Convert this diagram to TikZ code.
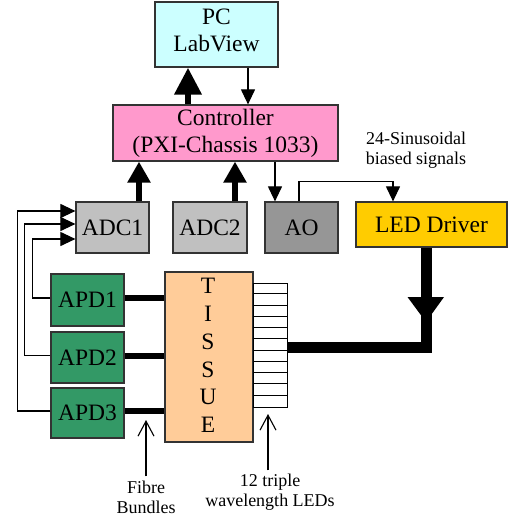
\documentclass[tikz,border=0pt]{standalone}
\usepackage{fontspec}
\setmainfont{Liberation Serif}
\usetikzlibrary{arrows.meta}
\definecolor{pccol}{HTML}{CCFFFF}
\definecolor{ctrlcol}{HTML}{FF99CC}
\definecolor{adccol}{HTML}{C0C0C0}
\definecolor{aocol}{HTML}{969696}
\definecolor{ledcol}{HTML}{FFCC00}
\definecolor{apdcol}{HTML}{339966}
\definecolor{tissuecol}{HTML}{FFCC99}
\newcommand\bigtxt{\fontsize{23.5}{27}\selectfont}
\newcommand\smalltxt{\fontsize{18}{20}\selectfont}
\begin{document}
\begin{tikzpicture}[x=1pt,y=-1pt,
  box/.style={draw=black!80, line width=1.2pt, inner sep=0pt, font=\bigtxt, align=center},
  thinarr/.style={line width=1.1pt, -{Triangle[width=14pt,length=15pt]}},
  thickA/.style={line width=6.5pt, -{Triangle[width=26pt,length=27pt]}},
  thickB/.style={line width=6.5pt, -{Triangle[width=22pt,length=21pt]}},
  fibre/.style={line width=6pt},
  openarr/.style={line width=1.1pt, -{Straight Barb[width=16pt,length=15pt]}},
  lbl/.style={font=\smalltxt, align=center}
]
\useasboundingbox (0,0) rectangle (514,518);

% boxes
\node[box, fill=pccol, minimum width=123pt, minimum height=65pt,
      label={[font=\bigtxt, align=center, yshift=4.5pt]center:{PC\\LabView}}] (pc) at (216.5,34.5) {};
\node[box, fill=ctrlcol, minimum width=225pt, minimum height=56pt] (ctrl) at (225.5,133) {Controller\\(PXI-Chassis 1033)};
\node[box, fill=adccol, minimum width=73pt, minimum height=51pt] (adc1) at (112.5,227.5) {ADC1};
\node[box, fill=adccol, minimum width=74pt, minimum height=51pt] (adc2) at (210,227.5) {ADC2};
\node[box, fill=aocol, minimum width=73pt, minimum height=51pt] (ao) at (301.5,227.5) {AO};
\node[box, fill=ledcol, minimum width=151pt, minimum height=45pt] (led) at (431.5,224.5) {LED Driver};
\node[box, fill=apdcol, minimum width=73pt, minimum height=52pt] (apd1) at (87.5,300) {APD1};
\node[box, fill=apdcol, minimum width=73pt, minimum height=51pt] (apd2) at (87.5,357.5) {APD2};
\node[box, fill=apdcol, minimum width=73pt, minimum height=50pt] (apd3) at (87.5,413) {APD3};
\node[box, fill=tissuecol, minimum width=88pt, minimum height=170pt] (tissue) at (209,357) {};
\node[font=\fontsize{23.5}{27.8}\selectfont, align=center, inner sep=0pt] (tissuetxt) at (208,355.5) {T\\I\\S\\S\\U\\E};

% LED stack
\node[draw=black, line width=1pt, fill=white, minimum width=34pt, minimum height=124pt, inner sep=0pt] (stack) at (270,345) {};
\foreach \i in {1,...,10}
  \draw[line width=1pt] (stack.north west) ++(0,\i*11.2727) -- ++(34,0);

% controller <-> PC
\draw[thickA] ([xshift=-28.5pt]pc.south |- ctrl.north) -- ([xshift=-28.5pt]pc.south);
\draw[thinarr] ([xshift=31.5pt]pc.south) -- ([xshift=31.5pt]pc.south |- ctrl.north);

% ADCs -> controller
\draw[thickB] ([xshift=26.5pt]adc1.north) -- ([xshift=26.5pt]adc1.north |- ctrl.south);
\draw[thickB] ([xshift=25pt]adc2.north) -- ([xshift=25pt]adc2.north |- ctrl.south);

% controller -> AO -> LED driver
\draw[thinarr] ([xshift=-26.5pt]ao.north |- ctrl.south) -- ([xshift=-26.5pt]ao.north);
\draw[thinarr] ([xshift=-2.5pt]ao.north) |- ([xshift=-38.5pt,yshift=20pt]led.north) -- ([xshift=-38.5pt]led.north);

% APDs -> ADC1
\draw[thinarr] ([yshift=2pt]apd1.west) -- ++(-18,0) |- ([yshift=-11.5pt]adc1.west);
\draw[thinarr] ([yshift=2pt]apd2.west) -- ++(-26,0) |- ([yshift=3.5pt]adc1.west);
\draw[thinarr] ([yshift=2pt]apd3.west) -- ++(-33,0) |- ([yshift=16.5pt]adc1.west);

% fibre bundles
\draw[fibre] ([yshift=2pt]apd1.east) -- ([yshift=2pt]apd1.east -| tissue.west);
\draw[fibre] ([yshift=2pt]apd2.east) -- ([yshift=2pt]apd2.east -| tissue.west);
\draw[fibre] ([yshift=2pt]apd3.east) -- ([yshift=2pt]apd3.east -| tissue.west);

% LED driver -> LEDs
\coordinate (ledout) at ([xshift=-5.5pt]led.south);
\coordinate (bend) at (426,347.5);
\draw[line width=11pt, line join=miter] (ledout) -- (bend) -- (bend -| stack.east);
\fill[black] (407.5,297) -- (444,297) -- (426,322) -- cycle;

% labels
\node[lbl] (sig) at (416,150) {24-Sinusoidal\\biased signals};
\node[lbl, inner sep=2pt] (fib) at (146,497) {Fibre\\Bundles};
\coordinate (fibtip) at (146,420);
\draw[openarr] ([yshift=2pt]fib.north) -- (fibtip);
\node[lbl] (ledl) at (270,492) {12 triple\\wavelength LEDs};
\coordinate (ledtip) at (268,414);
\draw[openarr] (ledl.north -| ledtip) -- (ledtip);
\end{tikzpicture}
\end{document}
